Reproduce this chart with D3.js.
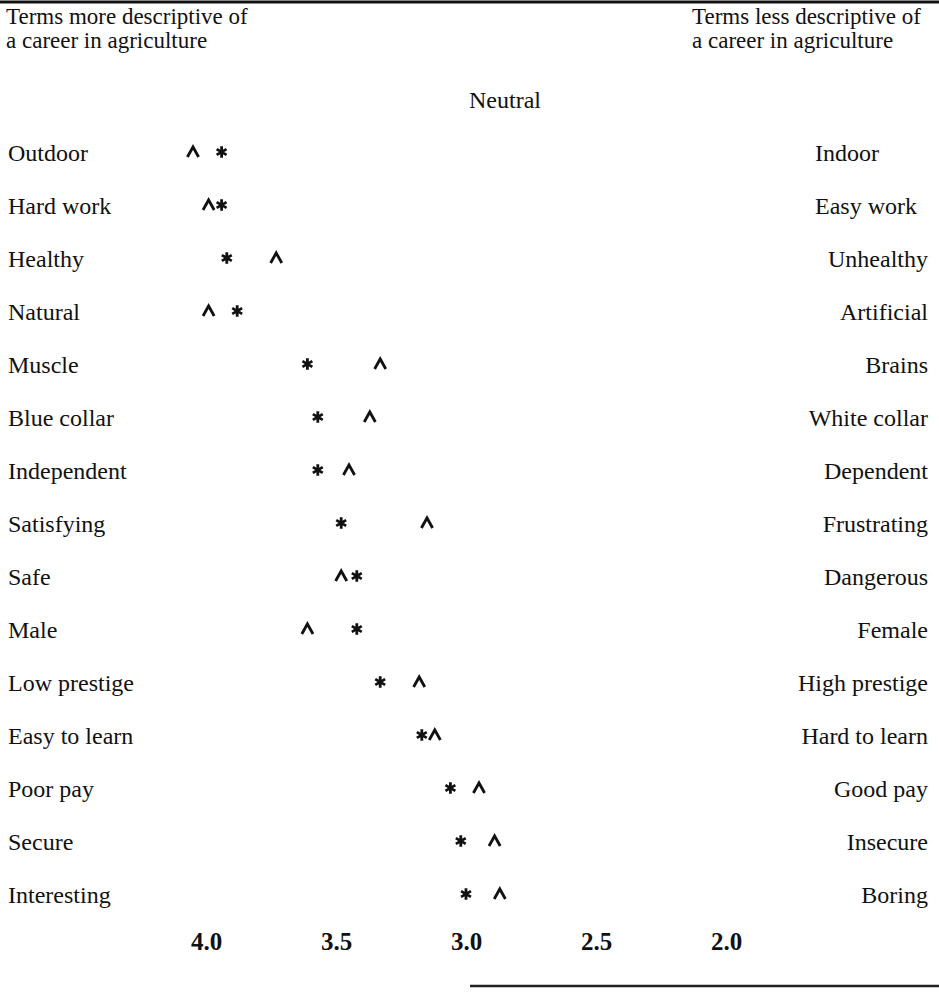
<!DOCTYPE html>
<html>
<head>
<meta charset="utf-8">
<script src="https://cdn.jsdelivr.net/npm/d3@7"></script>
<style>
  body { margin: 0; background: #fff; }
  text { font-family: "Liberation Serif", "Times New Roman", serif; fill: #111; }
</style>
</head>
<body>
<svg id="chart" width="939" height="993"></svg>
<script>
// terms on the left (more descriptive) and right (less descriptive)
var leftTerms = ['Outdoor', 'Hard work', 'Healthy', 'Natural', 'Muscle', 'Blue collar',
    'Independent', 'Satisfying', 'Safe', 'Male', 'Low prestige', 'Easy to learn',
    'Poor pay', 'Secure', 'Interesting'];
var rightTerms = ['Indoor', 'Easy work', 'Unhealthy', 'Artificial', 'Brains', 'White collar',
    'Dependent', 'Frustrating', 'Dangerous', 'Female', 'High prestige', 'Hard to learn',
    'Good pay', 'Insecure', 'Boring'];

// mean ratings, "*" series and "^" series
var starValues  = [3.94, 3.94, 3.92, 3.88, 3.61, 3.57, 3.57, 3.48, 3.42, 3.42, 3.33, 3.17, 3.06, 3.02, 3.00];
var caretValues = [4.05, 3.99, 3.73, 3.99, 3.33, 3.37, 3.45, 3.15, 3.48, 3.61, 3.18, 3.12, 2.95, 2.89, 2.87];

var tickValues = [4.0, 3.5, 3.0, 2.5, 2.0];

var W = 939, H = 993;
var svg = d3.select('#chart');

var x = d3.scaleLinear().domain([4, 2]).range([206, 726]);
var y = d3.scalePoint().domain(leftTerms).range([152, 894]);

// rules at top and bottom
svg.append('line')
    .attr('x1', 0).attr('x2', W)
    .attr('y1', 2).attr('y2', 2)
    .attr('stroke', '#111').attr('stroke-width', 3);
svg.append('line')
    .attr('x1', 470).attr('x2', W)
    .attr('y1', 986).attr('y2', 986)
    .attr('stroke', '#222').attr('stroke-width', 2.5);

// headers
function header(lines, xPos) {
    var t = svg.append('text').attr('font-size', 23);
    lines.forEach(function (s, i) {
        t.append('tspan').attr('x', xPos).attr('y', 24 + i * 24).text(s);
    });
}
header(['Terms more descriptive of', 'a career in agriculture'], 6);
header(['Terms less descriptive of', 'a career in agriculture'], 692);

svg.append('text')
    .attr('x', 505).attr('y', 108)
    .attr('text-anchor', 'middle')
    .attr('font-size', 24)
    .text('Neutral');

// row labels
svg.selectAll('text.left')
    .data(leftTerms)
    .enter()
    .append('text')
    .attr('class', 'left')
    .attr('x', 8)
    .attr('y', function (d) { return y(d) + 9; })
    .attr('font-size', 24)
    .text(function (d) { return d; });

svg.selectAll('text.right')
    .data(rightTerms)
    .enter()
    .append('text')
    .attr('class', 'right')
    .attr('x', function (d, i) { return i < 2 ? 815 : 928; })
    .attr('y', function (d, i) { return y(leftTerms[i]) + 9; })
    .attr('text-anchor', function (d, i) { return i < 2 ? 'start' : 'end'; })
    .attr('font-size', 24)
    .text(function (d) { return d; });

// axis with tick labels only
var axis = d3.axisBottom(x)
    .tickValues(tickValues)
    .tickFormat(d3.format('.1f'))
    .tickSize(0)
    .tickPadding(0);
var gAxis = svg.append('g')
    .attr('transform', 'translate(0,932)')
    .call(axis);
gAxis.select('.domain').remove();
gAxis.selectAll('text')
    .attr('font-size', 25)
    .attr('font-weight', 'bold')
    .attr('font-family', '"Liberation Serif", serif')
    .attr('fill', '#111');

// markers
var caret = {
    draw: function (context, size) {
        var w = Math.sqrt(size);
        context.moveTo(-w / 2, w * 0.45);
        context.lineTo(0, -w * 0.45);
        context.lineTo(w / 2, w * 0.45);
    }
};

svg.selectAll('path.star')
    .data(starValues)
    .enter()
    .append('path')
    .attr('class', 'star')
    .attr('d', d3.symbol().type(d3.symbolAsterisk).size(92))
    .attr('transform', function (d, i) {
        return 'translate(' + x(d) + ',' + y(leftTerms[i]) + ')';
    })
    .attr('fill', 'none')
    .attr('stroke', '#111')
    .attr('stroke-width', 2.8);

svg.selectAll('path.caret')
    .data(caretValues)
    .enter()
    .append('path')
    .attr('class', 'caret')
    .attr('d', d3.symbol().type(caret).size(125))
    .attr('transform', function (d, i) {
        return 'translate(' + x(d) + ',' + y(leftTerms[i]) + ')';
    })
    .attr('fill', 'none')
    .attr('stroke', '#111')
    .attr('stroke-width', 2.8);
</script>
</body>
</html>
